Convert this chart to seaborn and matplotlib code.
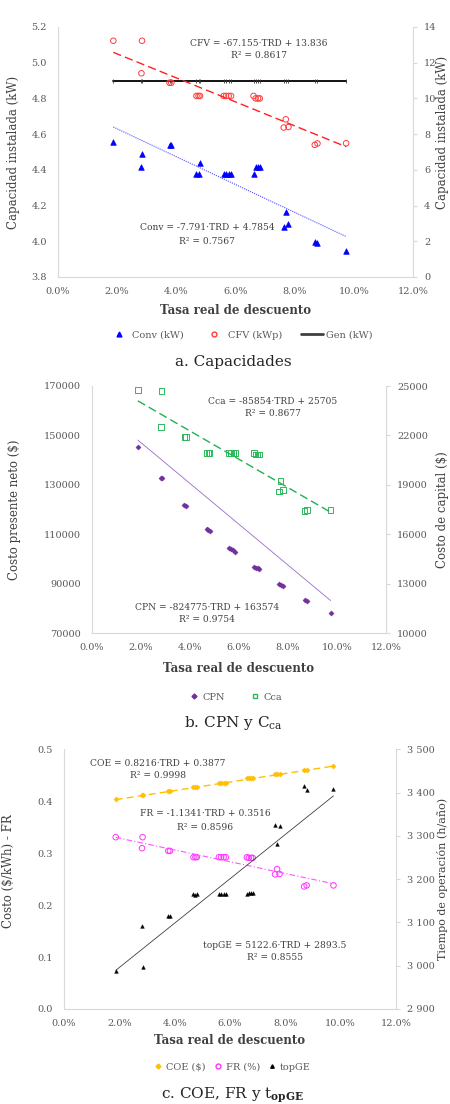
import numpy as np
import pandas as pd
import matplotlib
matplotlib.use("Agg")
import matplotlib.pyplot as plt
import seaborn as sns
from matplotlib.ticker import FuncFormatter, MultipleLocator
from matplotlib.lines import Line2D

sns.set_theme(style="white")
plt.rcParams['font.family'] = ['DejaVu Serif']
plt.rcParams['mathtext.fontset'] = 'dejavuserif'

# ---------------- data ----------------
trd = [0.0187, 0.0284, 0.0282, 0.0377, 0.0383, 0.0468, 0.0475, 0.0480, 0.0560, 0.0568, 0.0577,
       0.0585, 0.0661, 0.0668, 0.0676, 0.0682, 0.0770, 0.0763, 0.0779, 0.0868, 0.0877, 0.0974]

conv_kw = [4.558, 4.487, 4.414, 4.537, 4.537, 4.377, 4.377, 4.437, 4.377, 4.377, 4.377,
           4.377, 4.377, 4.414, 4.414, 4.414, 4.166, 4.080, 4.095, 3.995, 3.990, 3.944]
cfv_kwp = [13.23, 13.23, 11.41, 10.88, 10.88, 10.14, 10.14, 10.14, 10.14, 10.14, 10.14,
           10.14, 10.14, 10.00, 10.00, 10.00, 8.83, 8.37, 8.40, 7.40, 7.48, 7.49]
gen_kw = [4.9, 4.9, 4.9, 4.9, 4.9, 4.9, 4.9, 4.9, 4.9, 4.9, 4.9,
          4.9, 4.9, 4.9, 4.9, 4.9, 4.9, 4.9, 4.9, 4.9, 4.9, 4.9]

cpn = [145300, 132880, 132700, 121900, 121400, 112300, 111900, 111500, 104300, 103900, 103500,
       103000, 96900, 96600, 96300, 96000, 89600, 89800, 89300, 83500, 83200, 78400]
cca = [24757, 24700, 22510, 21900, 21900, 20931, 20931, 20931, 20931, 20931, 20931,
       20931, 20931, 20840, 20840, 20840, 19230, 18600, 18680, 17410, 17480, 17470]

coe = [0.4038, 0.4127, 0.4127, 0.4204, 0.4204, 0.4280, 0.4280, 0.4280, 0.4358, 0.4358, 0.4358,
       0.4358, 0.4442, 0.4442, 0.4442, 0.4442, 0.4525, 0.4525, 0.4525, 0.4600, 0.4600, 0.4685]
fr = [0.3308, 0.3308, 0.3096, 0.3044, 0.3044, 0.2923, 0.2923, 0.2923, 0.2923, 0.2923, 0.2923,
      0.2923, 0.2920, 0.2910, 0.2910, 0.2910, 0.2692, 0.2592, 0.2600, 0.2360, 0.2380, 0.2380]
topge = [2988, 2998, 3092, 3115, 3115, 3165, 3163, 3165, 3165, 3165, 3165,
         3165, 3165, 3168, 3168, 3168, 3282, 3326, 3322, 3415, 3406, 3408]

# trend-line coefficients (slope, intercept, R2) as printed in the chart
fit_conv = (-7.791, 4.7854, 0.7567)
fit_cfv = (-67.155, 13.836, 0.8617)
fit_cpn = (-824775, 163574, 0.9754)
fit_cca = (-85854, 25705, 0.8677)
fit_coe = (0.8216, 0.3877, 0.9998)
fit_fr = (-1.1341, 0.3516, 0.8596)
fit_top = (5122.6, 2893.5, 0.8555)

xticks = [0.0, 0.02, 0.04, 0.06, 0.08, 0.10, 0.12]

# ---------------- style ----------------
TICK_C = '#595959'
TXT_C = '#404040'
SPINE_C = '#D9D9D9'
FS = 7
EQ_FS = 6.6

fig = plt.figure(figsize=(4.5, 11.04), dpi=100)
fig.patch.set_facecolor('white')


def trend(ax, fit, color, ls, lw):
    xs = [min(trd), max(trd)]
    ys = [fit[0] * x + fit[1] for x in xs]
    sns.lineplot(x=xs, y=ys, ax=ax, color=color, linestyle=ls, linewidth=lw, legend=False)


def style_axes(ax, axr, ylim, yticks, rylim, ryticks, yfmt=None, ryfmt=None):
    ax.set_xlim(0, 0.12)
    ax.set_xticks(xticks)
    ax.xaxis.set_major_formatter(FuncFormatter(lambda v, p: f"{v*100:.1f}%"))
    ax.set_ylim(*ylim)
    ax.set_yticks(yticks)
    axr.set_ylim(*rylim)
    axr.set_yticks(ryticks)
    if yfmt:
        ax.yaxis.set_major_formatter(FuncFormatter(yfmt))
    if ryfmt:
        axr.yaxis.set_major_formatter(FuncFormatter(ryfmt))
    for a in (ax, axr):
        a.set_facecolor('none')
        for s in a.spines.values():
            s.set_color(SPINE_C)
            s.set_linewidth(0.8)
        a.spines['top'].set_visible(False)
    ax.spines['right'].set_visible(False)
    axr.spines['left'].set_visible(False)
    axr.spines['bottom'].set_visible(False)
    ax.tick_params(axis='both', labelsize=FS, colors=TICK_C, length=0, pad=8)
    ax.tick_params(axis='x', pad=7)
    axr.tick_params(axis='y', labelsize=FS, colors=TICK_C, length=3, width=0.8,
                    direction='out', pad=5, color=SPINE_C, right=True)
    ax.set_xlabel('Tasa real de descuento', fontsize=8.5, fontweight='bold', color=TXT_C)
    ax.grid(False)
    axr.grid(False)


def eq(x, y, s):
    fig.text(x/450, 1 - y/1104, s, ha='center', va='center', fontsize=EQ_FS, color=TXT_C)


# ================= panel a =================
ax1 = fig.add_axes([58/450, 1 - 277/1104, 355/450, 250/1104])
ax1r = ax1.twinx()
sns.lineplot(x=trd, y=gen_kw, ax=ax1, color='black', linewidth=1.3, marker='|',
             markersize=2.2, markeredgewidth=0.6, markeredgecolor='#333333', legend=False, errorbar=None)
sns.scatterplot(x=trd, y=conv_kw, ax=ax1, marker='^', color='#0000FF', s=16,
                edgecolor='#0000FF', linewidth=0.5, legend=False)
trend(ax1, fit_conv, '#5050FF', (0, (1, 1)), 0.8)
sns.scatterplot(x=trd, y=cfv_kwp, ax=ax1r, marker='o', facecolor='none',
                edgecolor='#FF3B3B', s=16, linewidth=0.7, legend=False)
trend(ax1r, fit_cfv, '#FF2020', (0, (6, 3)), 1.0)
style_axes(ax1, ax1r, (3.8, 5.2), [3.8, 4.0, 4.2, 4.4, 4.6, 4.8, 5.0, 5.2],
           (0, 14), [0, 2, 4, 6, 8, 10, 12, 14],
           yfmt=lambda v, p: f"{v:.1f}", ryfmt=lambda v, p: f"{int(v)}")
ax1.set_ylabel('Capacidad instalada (kW)', fontsize=8.5, color=TXT_C)
ax1.yaxis.set_label_coords(-0.107, 0.5)
ax1r.set_ylabel('Capacidad instalada (kW)', fontsize=8.5, color=TXT_C)
ax1r.yaxis.set_label_coords(1.066, 0.58)
ax1.xaxis.set_label_coords(0.5, -0.108)

eq(259, 43, f"CFV = {fit_cfv[0]}·TRD + {fit_cfv[1]}")
eq(259, 55, f"R² = {fit_cfv[2]}")
eq(207, 228, f"Conv = {fit_conv[0]}·TRD + {fit_conv[1]}")
eq(207, 241, f"R² = {fit_conv[2]}")

h1 = [Line2D([], [], marker='^', color='#0000FF', ls='none', ms=3.5),
      Line2D([], [], marker='o', markerfacecolor='none', markeredgecolor='#FF3B3B', ls='none', ms=3.5),
      Line2D([], [], color='#404040', lw=2)]
fig.legend(h1, ['Conv (kW)', 'CFV (kWp)', 'Gen (kW)'], loc='center', ncol=3, frameon=False,
           bbox_to_anchor=(240/450, 1 - 335/1104), fontsize=FS, labelcolor=TICK_C,
           handlelength=2.2, columnspacing=2.0, handletextpad=0.3)
fig.text(233/450, 1 - 362/1104, 'a. Capacidades', ha='center', va='center', fontsize=11, color='#262626')

# ================= panel b =================
ax2 = fig.add_axes([92/450, 1 - 633.3/1104, 294/450, 247.3/1104])
ax2r = ax2.twinx()
sns.scatterplot(x=trd, y=cpn, ax=ax2, marker='D', color='#7030A0', s=7,
                edgecolor='#7030A0', linewidth=0.3, legend=False)
trend(ax2, fit_cpn, '#9B6BCB', '-', 0.6)
sns.scatterplot(x=trd, y=cca, ax=ax2r, marker='s', facecolor='none',
                edgecolor='#2EB85C', s=16, linewidth=0.7, legend=False)
trend(ax2r, fit_cca, '#22B050', (0, (6, 3)), 1.0)
style_axes(ax2, ax2r, (70000, 170000), [70000, 90000, 110000, 130000, 150000, 170000],
           (10000, 25000), [10000, 13000, 16000, 19000, 22000, 25000],
           yfmt=lambda v, p: f"{int(v)}", ryfmt=lambda v, p: f"{int(v)}")
ax2.set_ylabel('Costo presente neto ($)', fontsize=8.5, color=TXT_C)
ax2.yaxis.set_label_coords(-0.241, 0.5)
ax2r.set_ylabel('Costo de capital ($)', fontsize=8.5, color=TXT_C)
ax2r.yaxis.set_label_coords(1.17, 0.5)
ax2.xaxis.set_label_coords(0.5, -0.117)

eq(273, 402, f"Cca = {fit_cca[0]}·TRD + {fit_cca[1]}")
eq(273, 414, f"R² = {fit_cca[2]}")
eq(207, 607, f"CPN = {fit_cpn[0]}·TRD + {fit_cpn[1]}")
eq(207, 620, f"R² = {fit_cpn[2]}")

h2 = [Line2D([], [], marker='D', color='#7030A0', ls='none', ms=2.5),
      Line2D([], [], marker='s', markerfacecolor='none', markeredgecolor='#2EB85C', ls='none', ms=3.5)]
fig.legend(h2, ['CPN', 'Cca'], loc='center', ncol=2, frameon=False,
           bbox_to_anchor=(235/450, 1 - 697/1104), fontsize=FS, labelcolor=TICK_C,
           handlelength=1.2, columnspacing=2.5, handletextpad=0.3)
fig.text(233/450, 1 - 723/1104, r'b. CPN y C$_{\mathrm{ca}}$', ha='center', va='center',
         fontsize=11, color='#262626')

# ================= panel c =================
ax3 = fig.add_axes([64/450, 1 - 1009/1104, 332/450, 259.7/1104])
ax3r = ax3.twinx()
sns.scatterplot(x=trd, y=coe, ax=ax3, marker='D', color='#FFC000', s=7,
                edgecolor='#FFC000', linewidth=0.3, legend=False)
trend(ax3, fit_coe, '#FFC000', (0, (5, 3)), 1.0)
sns.scatterplot(x=trd, y=fr, ax=ax3, marker='o', facecolor='none',
                edgecolor='#FF33FF', s=16, linewidth=0.7, legend=False)
trend(ax3, fit_fr, '#FF55FF', (0, (5, 2, 1, 2)), 0.8)
sns.scatterplot(x=trd, y=topge, ax=ax3r, marker='^', color='black', s=7,
                edgecolor='black', linewidth=0.3, legend=False)
trend(ax3r, fit_top, '#404040', '-', 0.6)
style_axes(ax3, ax3r, (0.0, 0.5), [0.0, 0.1, 0.2, 0.3, 0.4, 0.5],
           (2900, 3500), [2900, 3000, 3100, 3200, 3300, 3400, 3500],
           yfmt=lambda v, p: f"{v:.1f}",
           ryfmt=lambda v, p: f"{int(round(v)):,}".replace(",", " "))
ax3.set_ylabel('Costo ($/kWh) - FR', fontsize=8.5, color=TXT_C)
ax3.yaxis.set_label_coords(-0.148, 0.53)
ax3r.set_ylabel('Tiempo de operación (h/año)', fontsize=8.0, color=TXT_C)
ax3r.yaxis.set_label_coords(1.125, 0.5)
ax3.xaxis.set_label_coords(0.5, -0.096)

eq(158, 763, f"COE = {fit_coe[0]}·TRD + {fit_coe[1]}")
eq(158, 775, f"R² = {fit_coe[2]}")
eq(205, 814, f"FR = {fit_fr[0]}·TRD + {fit_fr[1]}")
eq(205, 827, f"R² = {fit_fr[2]}")
eq(275, 945, f"topGE = {fit_top[0]}·TRD + {fit_top[1]}")
eq(275, 957, f"R² = {fit_top[2]}")

h3 = [Line2D([], [], marker='D', color='#FFC000', ls='none', ms=2.5),
      Line2D([], [], marker='o', markerfacecolor='none', markeredgecolor='#FF33FF', ls='none', ms=3.5),
      Line2D([], [], marker='^', color='black', ls='none', ms=2.5)]
fig.legend(h3, ['COE ($)', 'FR (%)', 'topGE'], loc='center', ncol=3, frameon=False,
           bbox_to_anchor=(232/450, 1 - 1067/1104), fontsize=FS, labelcolor=TICK_C,
           handlelength=1.0, columnspacing=0.8, handletextpad=0.3)
fig.text(233/450, 1 - 1095/1104, r'c. COE, FR y t$_{\mathbf{opGE}}$', ha='center', va='center',
         fontsize=11, color='#262626')

fig.savefig('out.png', dpi=100, facecolor='white')
